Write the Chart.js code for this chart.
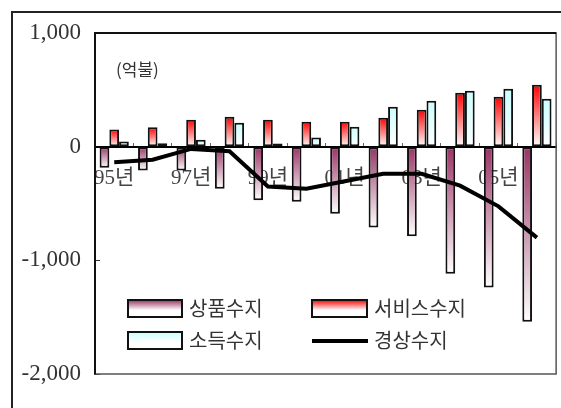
<!DOCTYPE html>
<html>
<head>
<meta charset="utf-8">
<script src="https://cdn.jsdelivr.net/npm/chart.js@4"></script>
<style>
  body { margin: 0; background: #fff; }
  #wrap { position: relative; width: 561px; height: 408px; overflow: hidden; }
  #frame { position: absolute; left: 11px; top: 11px; width: 700px; height: 600px; border: 2px solid #222; }
  canvas { position: absolute; left: 0; top: 0; }
</style>
</head>
<body>
<div id="wrap">
  <div id="frame"></div>
  <canvas id="balanceChart" width="561" height="408"></canvas>
</div>
<script>
var years = ["95년", "96년", "97년", "98년", "99년", "00년", "01년", "02년", "03년", "04년", "05년", "06년"];
var goodsBalance = [-185, -210, -210, -370, -472, -485, -590, -712, -788, -1117, -1240, -1540];
var serviceBalance = [150, 170, 237, 263, 237, 220, 220, 255, 325, 475, 440, 545];
var incomeBalance = [45, 30, 60, 211, 28, 80, 176, 352, 405, 493, 510, 422];
var currentBalance = [-138, -115, -20, -40, -350, -370, -305, -238, -238, -343, -525, -800];
var yTicks = [1000, 0, -1000, -2000];

var serifFont = "'Liberation Serif', 'Noto Sans CJK KR', serif";
var krFont = "'Noto Sans CJK KR', sans-serif";

// each bar fades from its colour at the top edge to white at the bottom edge
function barGradient (topColor, bottomColor) {
    return function (c) {
        var chart = c.chart;
        if (!chart.chartArea || c.type !== "data" || !chart.scales.y) {
            return topColor;
        }
        var y = chart.scales.y;
        var p0 = y.getPixelForValue(0);
        var p1 = y.getPixelForValue(c.raw);
        var top = Math.min(p0, p1), bot = Math.max(p0, p1);
        if (bot - top < 1) {
            return topColor;
        }
        var g = chart.ctx.createLinearGradient(0, top, 0, bot);
        g.addColorStop(0, topColor);
        g.addColorStop(1, bottomColor);
        return g;
    };
}

var plotFrame = {
    id: "plotFrame",
    beforeDatasetsDraw: function (chart) {
        var a = chart.chartArea, ctx = chart.ctx;
        ctx.save();
        ctx.strokeStyle = "#555";
        ctx.lineWidth = 1.5;
        ctx.strokeRect(a.left, a.top, a.right - a.left, a.bottom - a.top);
        ctx.strokeStyle = "#111";
        ctx.lineWidth = 2;
        ctx.beginPath();
        ctx.moveTo(a.left, a.bottom);
        ctx.lineTo(a.left, a.top);
        ctx.lineTo(a.right, a.top);
        ctx.stroke();
        ctx.restore();
    }
};

function legendBox (ctx, x, y, w, h, color) {
    var g = ctx.createLinearGradient(0, y, 0, y + h);
    g.addColorStop(0, color);
    g.addColorStop(0.6, "#fff");
    g.addColorStop(1, "#fff");
    ctx.fillStyle = g;
    ctx.fillRect(x, y, w, h);
    ctx.strokeStyle = "#111";
    ctx.lineWidth = 2;
    ctx.strokeRect(x, y, w, h);
}

var innerLegend = {
    id: "innerLegend",
    afterDraw: function (chart) {
        var ctx = chart.ctx;
        ctx.save();
        ctx.fillStyle = "#333";
        ctx.textBaseline = "middle";
        ctx.font = "17px " + krFont;
        ctx.fillText("(억불)", 116, 70);

        ctx.font = "20px " + krFont;
        legendBox(ctx, 128, 300, 54, 17, "#993366");
        ctx.fillStyle = "#333";
        ctx.fillText("상품수지", 189, 308);
        legendBox(ctx, 312, 300, 55, 17, "#ff0000");
        ctx.fillStyle = "#333";
        ctx.fillText("서비스수지", 374, 308);
        legendBox(ctx, 128, 332, 54, 17, "#c8ffff");
        ctx.fillStyle = "#333";
        ctx.fillText("소득수지", 189, 340);
        ctx.strokeStyle = "#000";
        ctx.lineWidth = 4;
        ctx.beginPath();
        ctx.moveTo(312, 341);
        ctx.lineTo(368, 341);
        ctx.stroke();
        ctx.fillText("경상수지", 374, 340);
        ctx.restore();
    }
};

var barCommon = {
    type: "bar",
    borderColor: "#111",
    borderWidth: 2,
    borderSkipped: false,
    barPercentage: 1,
    categoryPercentage: 0.76,
    order: 1
};

new Chart(document.getElementById("balanceChart"), {
    data: {
        labels: years,
        datasets: [
            Object.assign({ label: "상품수지", data: goodsBalance, backgroundColor: barGradient("#993366", "#ffffff") }, barCommon),
            Object.assign({ label: "서비스수지", data: serviceBalance, backgroundColor: barGradient("#ff0000", "#ffffff") }, barCommon),
            Object.assign({ label: "소득수지", data: incomeBalance, backgroundColor: barGradient("#c8ffff", "#ffffff") }, barCommon),
            {
                type: "line",
                label: "경상수지",
                data: currentBalance,
                borderColor: "#000",
                borderWidth: 4,
                pointRadius: 0,
                tension: 0,
                fill: false,
                order: 0
            }
        ]
    },
    options: {
        responsive: false,
        animation: false,
        layout: { padding: { left: 0, top: 33, right: 2, bottom: 34 } },
        plugins: {
            legend: { display: false },
            tooltip: { enabled: false }
        },
        scales: {
            x: {
                position: { y: 0 },
                offset: true,
                grid: { drawOnChartArea: false, offset: true, tickLength: -5, color: "#666" },
                border: { color: "#000", width: 2 },
                ticks: {
                    autoSkip: false,
                    maxRotation: 0,
                    padding: 24,
                    color: "#444",
                    font: { family: serifFont, size: 21 },
                    callback: function (v, i) { return i % 2 === 0 ? years[i] : ""; }
                }
            },
            y: {
                min: -2000,
                max: 1000,
                afterFit: function (s) { s.width = 95; },
                afterBuildTicks: function (s) { s.ticks = yTicks.map(function (v) { return { value: v }; }); },
                grid: { drawOnChartArea: false, tickLength: -5, color: "#333" },
                border: { color: "#111", width: 2 },
                ticks: {
                    padding: 19,
                    color: "#333",
                    font: { family: serifFont, size: 23 },
                    callback: function (v) { return v.toLocaleString("en-US"); }
                }
            }
        }
    },
    plugins: [plotFrame, innerLegend]
});
</script>
</body>
</html>
